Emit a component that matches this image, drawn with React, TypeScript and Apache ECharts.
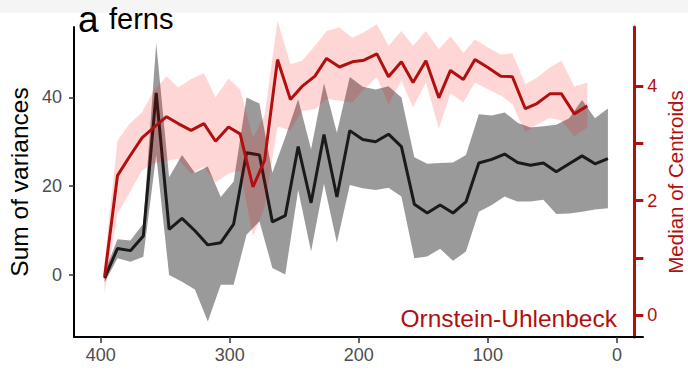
import React, { useEffect, useRef } from "react";
import * as echarts from "echarts";

// Sum of variances (black line + grey ribbon)
const varAges = [397, 387, 377, 367, 357, 347, 337, 327, 317, 307, 297, 287, 277, 267, 257, 247, 237, 227, 217, 207, 197, 187, 177, 167, 157, 147, 137, 127, 117, 107, 97, 87, 77, 67, 57, 47, 37, 27, 17, 7];
const varMean = [-0.8, 5.9, 5.4, 8.7, 41.0, 10.2, 12.7, 9.9, 6.7, 7.2, 11.4, 27.5, 27.0, 11.9, 13.3, 28.9, 16.2, 31.6, 17.5, 32.5, 30.5, 30.0, 31.7, 28.9, 15.9, 13.9, 15.7, 13.9, 16.4, 25.2, 26.0, 27.2, 25.3, 24.7, 25.2, 23.2, 25.0, 26.8, 25.0, 26.2];
const varUpper = [0.5, 8.0, 7.7, 11.5, 52.3, 22.0, 27.0, 23.0, 24.4, 17.5, 21.0, 40.0, 38.6, 23.0, 31.0, 39.6, 28.3, 43.2, 32.0, 44.6, 42.4, 41.8, 42.5, 40.0, 26.5, 25.0, 25.2, 25.3, 27.0, 36.2, 35.9, 36.6, 34.3, 33.2, 33.5, 33.8, 35.3, 39.4, 35.3, 37.5];
const varLower = [-1.8, 3.7, 2.9, 4.0, 27.0, -0.1, -1.6, -3.4, -10.6, -2.3, -2.3, 9.0, 12.0, 1.5, 0.0, 19.1, 5.2, 20.5, 7.2, 20.2, 19.5, 19.1, 19.6, 17.6, 3.7, 4.1, 5.8, 3.1, 5.2, 14.2, 15.7, 17.6, 16.5, 16.5, 16.9, 13.7, 13.8, 14.2, 14.7, 15.0];

// Median of centroids (red line + pink ribbon)
const cenAges = [397, 387, 378, 368, 359, 349, 340, 330, 320, 311, 301, 292, 282, 273, 263, 253, 244, 234, 225, 215, 205, 196, 186, 177, 167, 158, 148, 138, 129, 119, 110, 100, 90, 81, 71, 62, 52, 43, 33, 23];
const cenMedian = [0.67, 2.44, 2.76, 3.10, 3.28, 3.47, 3.35, 3.23, 3.35, 3.04, 3.29, 3.17, 2.24, 2.71, 4.47, 3.77, 4.0, 4.18, 4.49, 4.34, 4.43, 4.46, 4.57, 4.17, 4.43, 4.07, 4.45, 3.80, 4.28, 4.12, 4.47, 4.33, 4.18, 4.17, 3.61, 3.70, 3.87, 3.87, 3.52, 3.66];
const cenUpper = [0.95, 3.05, 3.34, 3.55, 3.92, 4.18, 3.98, 4.13, 4.23, 3.81, 4.14, 3.95, 3.1, 3.5, 5.15, 4.39, 4.45, 4.71, 4.97, 5.03, 4.85, 4.95, 5.09, 4.71, 4.97, 4.71, 4.97, 4.65, 4.88, 4.59, 4.82, 4.68, 4.56, 4.58, 4.04, 4.15, 4.33, 4.45, 4.0, 4.07];
const cenLower = [0.38, 1.77, 2.12, 2.53, 2.65, 2.70, 2.73, 2.47, 2.59, 2.32, 2.47, 2.53, 1.37, 1.89, 3.3, 3.23, 3.57, 3.60, 3.78, 3.75, 3.72, 3.95, 4.16, 3.69, 4.10, 3.63, 4.07, 3.26, 3.88, 3.72, 4.07, 3.95, 3.84, 3.69, 3.20, 3.33, 3.45, 3.40, 3.13, 3.28];

const xTicks = [0, 100, 200, 300, 400];
const leftTicks = [0, 20, 40];
const rightTicks = [0, 1, 2, 3, 4];
const rightLabels = [0, 2, 4];

const FONT = "Liberation Sans, Arial, sans-serif";
const RED = "#B0100F";

function band(ages: number[], lo: number[], hi: number[], fill: string, yAxisIndex: number, z: number) {
  return {
    type: "custom",
    xAxisIndex: 0,
    yAxisIndex,
    z,
    silent: true,
    data: ages.map((a, i) => [a, lo[i], hi[i]]),
    encode: { x: 0, y: [1, 2] },
    renderItem: (params: any, api: any) => {
      if (params.dataIndex !== 0) return null;
      const pts: number[][] = [];
      for (let i = 0; i < ages.length; i++) pts.push(api.coord([ages[i], hi[i]]));
      for (let i = ages.length - 1; i >= 0; i--) pts.push(api.coord([ages[i], lo[i]]));
      return { type: "polygon", shape: { points: pts }, style: { fill } };
    },
  };
}

export default function App() {
  const ref = useRef<HTMLDivElement>(null);
  useEffect(() => {
    if (!ref.current) return;
    const chart = echarts.init(ref.current, null, { renderer: "svg" });
    chart.setOption({
      animation: false,
      backgroundColor: "#ffffff",
      grid: { left: 74, right: 45, top: 27, bottom: 34, containLabel: false, outerBoundsMode: "none" },
      xAxis: {
        type: "value",
        inverse: true,
        min: -20.2,
        max: 420.7,
        axisLine: { onZero: false, lineStyle: { color: "#000", width: 2 } },
        axisTick: { customValues: xTicks, length: 6, lineStyle: { color: "#333", width: 1.5 } },
        axisLabel: { customValues: xTicks, color: "#4d4d4d", fontSize: 18, fontFamily: FONT, margin: 9 },
        splitLine: { show: false },
      },
      yAxis: [
        {
          type: "value",
          position: "left",
          min: -14.1,
          max: 55.9,
          axisLine: { show: true, onZero: false, lineStyle: { color: "#000", width: 2 } },
          axisTick: { show: true, customValues: leftTicks, length: 5, lineStyle: { color: "#333", width: 1.5 } },
          axisLabel: { customValues: leftTicks, color: "#4d4d4d", fontSize: 18, fontFamily: FONT, margin: 12 },
          splitLine: { show: false },
          name: "Sum of variances",
          nameLocation: "middle",
          nameRotate: 90,
          nameGap: 42,
          nameMoveOverlap: false,
          nameTextStyle: { color: "#000", fontSize: 24.5, fontFamily: FONT },
        },
        {
          type: "value",
          position: "right",
          offset: -8.7,
          min: -0.385,
          max: 5.04,
          axisLine: { show: true, onZero: false, lineStyle: { color: RED, width: 3 } },
          axisTick: { show: true, customValues: rightTicks, length: 9, lineStyle: { color: RED, width: 3 } },
          axisLabel: { customValues: rightLabels, color: RED, fontSize: 18, fontFamily: FONT, margin: 13 },
          splitLine: { show: false },
          name: "Median of Centroids",
          nameLocation: "middle",
          nameRotate: 90,
          nameGap: 31,
          nameMoveOverlap: false,
          nameTextStyle: { color: RED, fontSize: 20.5, fontFamily: FONT },
        },
      ],
      graphic: [
        { type: "rect", left: 0, top: 0, z: -10, shape: { width: 688, height: 13 }, style: { fill: "#f5f5f5" } },
        { type: "text", x: 78, y: 19.5, z: 10, style: { text: "a", font: `37px ${FONT}`, fill: "#000", verticalAlign: "middle", align: "left" } },
        { type: "text", x: 109, y: 18.6, z: 10, style: { text: "ferns", font: `29px ${FONT}`, fill: "#000", verticalAlign: "middle", align: "left" } },
        { type: "text", x: 617, y: 318, z: 10, style: { text: "Ornstein-Uhlenbeck", font: `24.5px ${FONT}`, fill: RED, verticalAlign: "middle", align: "right" } },
      ],
      series: [
        band(varAges, varLower, varUpper, "#9a9a9a", 0, 1),
        {
          type: "line",
          xAxisIndex: 0,
          yAxisIndex: 0,
          z: 2,
          showSymbol: false,
          silent: true,
          data: varAges.map((a, i) => [a, varMean[i]]),
          lineStyle: { color: "#1a1a1a", width: 3 },
        },
        band(cenAges, cenLower, cenUpper, "rgba(255,0,0,0.16)", 1, 3),
        {
          type: "line",
          xAxisIndex: 0,
          yAxisIndex: 1,
          z: 4,
          showSymbol: false,
          silent: true,
          data: cenAges.map((a, i) => [a, cenMedian[i]]),
          lineStyle: { color: RED, width: 3 },
        },
      ],
    });
    return () => chart.dispose();
  }, []);
  return <div ref={ref} style={{ position: "fixed", left: 0, top: 0, width: 688, height: 371 }} />;
}
